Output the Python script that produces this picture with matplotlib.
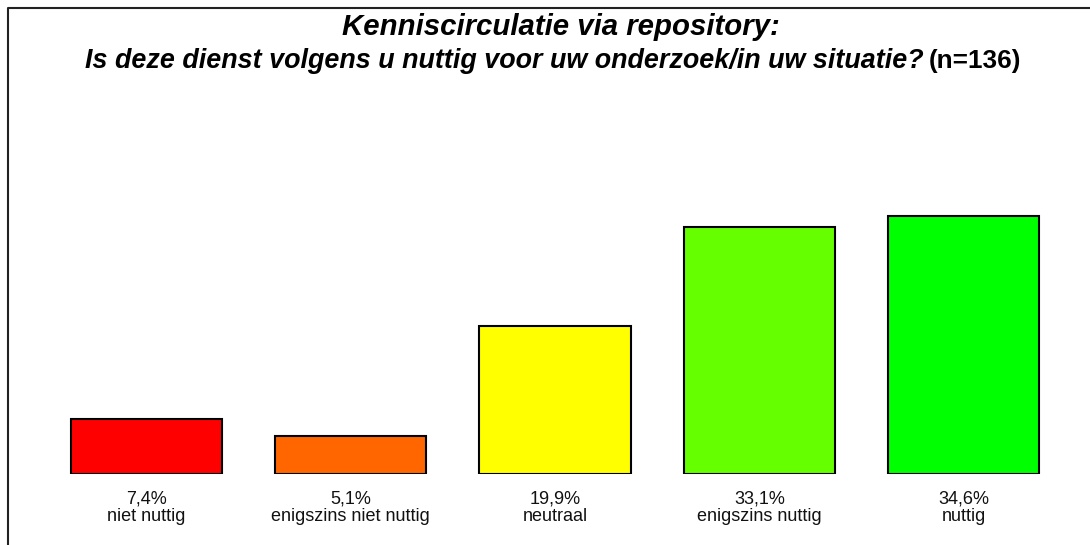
import matplotlib

matplotlib.use("Agg")
import matplotlib.pyplot as plt
from matplotlib.lines import Line2D

plt.rcParams["font.family"] = ["Liberation Sans", "DejaVu Sans"]

categories = ["niet nuttig", "enigszins niet nuttig", "neutraal", "enigszins nuttig", "nuttig"]
values = [7.4, 5.1, 19.9, 33.1, 34.6]
colors = ["#FF0000", "#FF6600", "#FFFF00", "#66FF00", "#00FF00"]

W, H = 1090, 545
fig = plt.figure(figsize=(W / 100, H / 100), dpi=100)

# axes placed in pixel terms: x 44..1066, y 100..474 (from top)
ax = fig.add_axes([44 / W, (H - 474) / H, (1066 - 44) / W, (474 - 100) / H])
x = list(range(len(values)))
ax.bar(x, values, width=0.74, color=colors, edgecolor="black", linewidth=1.5)
ax.set_xlim(-0.5, len(values) - 0.5)
ax.set_ylim(0, 374 / 7.457)
ax.set_axis_off()

px = 0.72  # points per pixel at dpi 100
for xi, v, cat in zip(x, values, categories):
    label = f"{v:.1f}%".replace(".", ",")
    ax.annotate(label, (xi, 0), xycoords=("data", "axes fraction"),
                xytext=(0, -30 * px), textcoords="offset points",
                ha="center", va="baseline", fontsize=13, color="#111111")
    ax.annotate(cat, (xi, 0), xycoords=("data", "axes fraction"),
                xytext=(0, -47 * px), textcoords="offset points",
                ha="center", va="baseline", fontsize=13, color="#111111")

# title
fig.text(561 / W, 1 - 35 / H, "Kenniscirculatie via repository:",
         ha="center", va="baseline", fontsize=21.2, fontweight="bold", style="italic")
fig.text(924 / W, 1 - 68 / H, "Is deze dienst volgens u nuttig voor uw onderzoek/in uw situatie?",
         ha="right", va="baseline", fontsize=19.4, fontweight="bold", style="italic")
fig.text(929 / W, 1 - 68 / H, "(n=136)",
         ha="left", va="baseline", fontsize=18.8, fontweight="bold")

# frame (only left and top visible)
fig.add_artist(Line2D([8 / W, 8 / W, 1], [0, 1 - 8 / H, 1 - 8 / H],
                      transform=fig.transFigure, color="#222222", linewidth=1.5))

fig.savefig("out.png", dpi=100)
